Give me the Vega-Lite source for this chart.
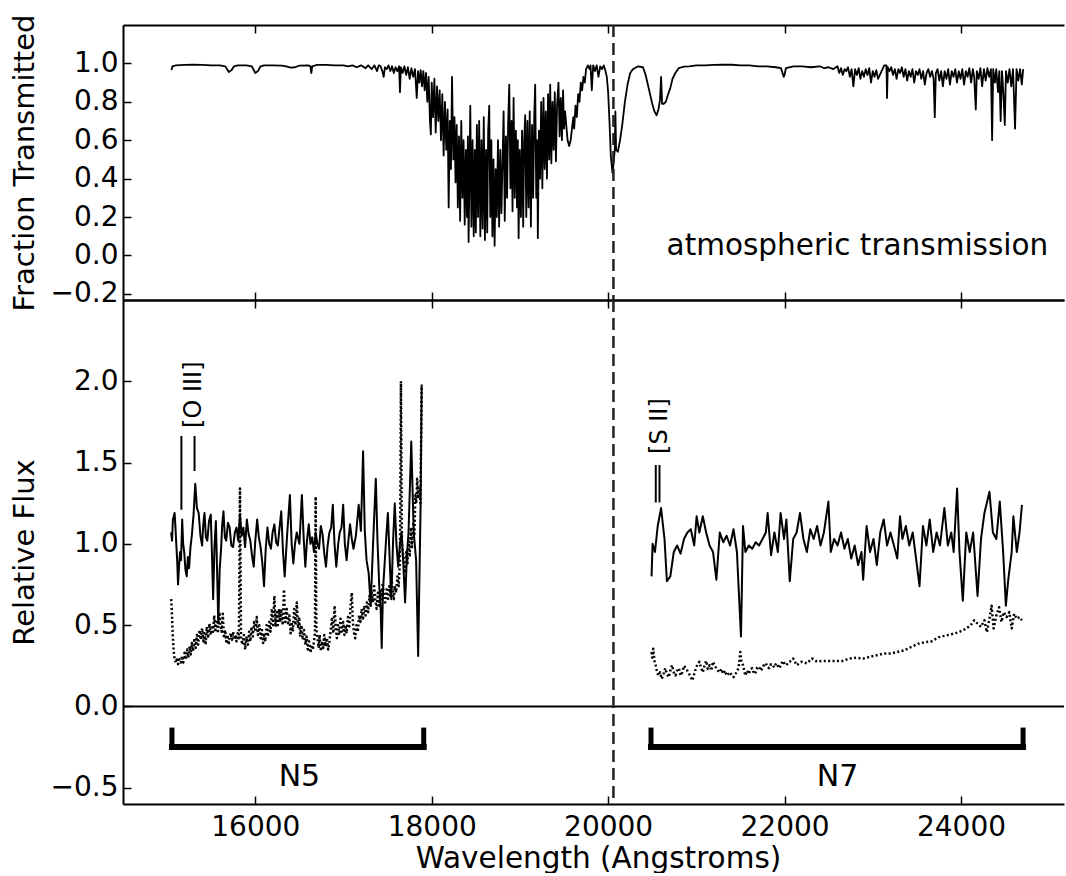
{
  "$schema": "https://vega.github.io/schema/vega-lite/v6.json",
  "autosize": {"type": "pad"},
  "padding": {"left": 10, "top": 14, "right": 0, "bottom": 0},
  "bounds": "flush",
  "spacing": 0,
  "background": "#ffffff",
  "config": {
    "font": "DejaVu Sans",
    "view": {"stroke": null},
    "axis": {"grid": false, "domain": true, "domainColor": "#000000", "domainWidth": 2, "tickColor": "#000000", "tickWidth": 1.5, "tickSize": -8, "labelColor": "#000000", "titleColor": "#000000", "labelFont": "DejaVu Sans", "titleFont": "DejaVu Sans", "labelFontSize": 28, "titleFontSize": 29, "titleFontWeight": "normal", "labelOverlap": false}
  },
  "datasets": {
    "atm": [
      {"w":15050,"t":0.965},{"w":15060,"t":0.985},{"w":15100,"t":0.99},{"w":15200,"t":0.992},{"w":15300,"t":0.993},{"w":15400,"t":0.992},{"w":15500,"t":0.99},{"w":15600,"t":0.99},{"w":15660,"t":0.985},{"w":15700,"t":0.955},{"w":15730,"t":0.965},{"w":15760,"t":0.985},{"w":15800,"t":0.99},{"w":15900,"t":0.99},{"w":15960,"t":0.985},{"w":16000,"t":0.95},{"w":16030,"t":0.96},{"w":16060,"t":0.985},{"w":16100,"t":0.99},{"w":16200,"t":0.99},{"w":16300,"t":0.988},{"w":16350,"t":0.985},{"w":16400,"t":0.978},{"w":16450,"t":0.98},{"w":16500,"t":0.988},{"w":16600,"t":0.99},{"w":16625,"t":0.985},{"w":16635,"t":0.95},{"w":16645,"t":0.985},{"w":16700,"t":0.992},{"w":16800,"t":0.992},{"w":16900,"t":0.99},{"w":17000,"t":0.99},{"w":17050,"t":0.985},{"w":17100,"t":0.99},{"w":17150,"t":0.98},{"w":17200,"t":0.99},{"w":17250,"t":0.975},{"w":17280,"t":0.99},{"w":17320,"t":0.97},{"w":17350,"t":0.99},{"w":17380,"t":0.96},{"w":17400,"t":0.99},
      {"w":17420,"t":0.985},{"w":17440,"t":0.96},{"w":17455,"t":0.93},{"w":17470,"t":0.98},{"w":17490,"t":0.97},{"w":17510,"t":0.99},{"w":17530,"t":0.96},{"w":17550,"t":0.985},{"w":17570,"t":0.95},{"w":17590,"t":0.98},{"w":17610,"t":0.96},{"w":17630,"t":0.985},{"w":17640,"t":0.85},{"w":17650,"t":0.98},{"w":17670,"t":0.95},{"w":17690,"t":0.985},{"w":17710,"t":0.94},{"w":17730,"t":0.98},{"w":17750,"t":0.92},{"w":17770,"t":0.975},{"w":17790,"t":0.93},{"w":17810,"t":0.97},{"w":17830,"t":0.82},{"w":17845,"t":0.96},{"w":17860,"t":0.9},{"w":17875,"t":0.965},{"w":17890,"t":0.88},{"w":17905,"t":0.96},{"w":17920,"t":0.86},{"w":17935,"t":0.95},{"w":17950,"t":0.8},
      {"w":17965,"t":0.93},{"w":17980,"t":0.7},{"w":17990,"t":0.63},{"w":18000,"t":0.9},{"w":18015,"t":0.72},{"w":18030,"t":0.92},{"w":18045,"t":0.64},{"w":18060,"t":0.88},{"w":18075,"t":0.7},{"w":18090,"t":0.86},{"w":18105,"t":0.6},{"w":18120,"t":0.84},{"w":18135,"t":0.52},{"w":18150,"t":0.8},{"w":18165,"t":0.55},{"w":18180,"t":0.76},{"w":18192,"t":0.25},{"w":18205,"t":0.7},{"w":18218,"t":0.45},{"w":18230,"t":0.93},{"w":18245,"t":0.5},{"w":18258,"t":0.72},{"w":18270,"t":0.38},
      {"w":18283,"t":0.68},{"w":18296,"t":0.25},{"w":18309,"t":0.62},{"w":18322,"t":0.18},{"w":18335,"t":0.7},{"w":18348,"t":0.3},{"w":18361,"t":0.6},{"w":18374,"t":0.16},{"w":18387,"t":0.55},{"w":18400,"t":0.2},{"w":18410,"t":0.62},{"w":18418,"t":0.07},{"w":18430,"t":0.5},{"w":18437,"t":0.78},{"w":18450,"t":0.15},{"w":18463,"t":0.6},{"w":18476,"t":0.1},{"w":18488,"t":0.55},
      {"w":18500,"t":0.12},{"w":18512,"t":0.68},{"w":18525,"t":0.2},{"w":18538,"t":0.7},{"w":18551,"t":0.1},{"w":18564,"t":0.6},{"w":18577,"t":0.14},{"w":18590,"t":0.72},{"w":18603,"t":0.08},{"w":18616,"t":0.55},{"w":18629,"t":0.12},{"w":18640,"t":0.65},{"w":18652,"t":0.78},{"w":18664,"t":0.2},{"w":18676,"t":0.6},{"w":18688,"t":0.1},{"w":18700,"t":0.5},{"w":18713,"t":0.05},{"w":18725,"t":0.45},
      {"w":18738,"t":0.2},{"w":18751,"t":0.6},{"w":18764,"t":0.15},{"w":18777,"t":0.55},{"w":18790,"t":0.22},{"w":18803,"t":0.5},{"w":18815,"t":0.75},{"w":18828,"t":0.18},{"w":18841,"t":0.62},{"w":18854,"t":0.3},{"w":18866,"t":0.68},{"w":18879,"t":0.89},{"w":18892,"t":0.35},{"w":18905,"t":0.7},{"w":18916,"t":0.23},{"w":18928,"t":0.82},{"w":18941,"t":0.3},{"w":18954,"t":0.65},{"w":18967,"t":0.25},{"w":18976,"t":0.6},{"w":18985,"t":0.09},
      {"w":18998,"t":0.55},{"w":19011,"t":0.2},{"w":19024,"t":0.65},{"w":19037,"t":0.15},{"w":19048,"t":0.6},{"w":19060,"t":0.73},{"w":19072,"t":0.2},{"w":19085,"t":0.7},{"w":19098,"t":0.25},{"w":19111,"t":0.75},{"w":19124,"t":0.15},{"w":19137,"t":0.68},{"w":19150,"t":0.3},{"w":19162,"t":0.72},{"w":19173,"t":0.89},{"w":19185,"t":0.3},{"w":19196,"t":0.6},{"w":19203,"t":0.09},{"w":19215,"t":0.65},
      {"w":19228,"t":0.4},{"w":19241,"t":0.8},{"w":19254,"t":0.35},{"w":19267,"t":0.82},{"w":19280,"t":0.45},{"w":19293,"t":0.75},{"w":19306,"t":0.4},{"w":19319,"t":0.84},{"w":19332,"t":0.5},{"w":19343,"t":0.89},{"w":19356,"t":0.48},{"w":19369,"t":0.8},{"w":19382,"t":0.55},{"w":19395,"t":0.85},{"w":19408,"t":0.49},{"w":19421,"t":0.78},{"w":19437,"t":0.9},{"w":19450,"t":0.62},{"w":19463,"t":0.82},{"w":19476,"t":0.6},{"w":19489,"t":0.86},{"w":19500,"t":0.66},{"w":19512,"t":0.75},
      {"w":19525,"t":0.68},{"w":19540,"t":0.6},{"w":19558,"t":0.57},{"w":19575,"t":0.6},{"w":19590,"t":0.66},{"w":19605,"t":0.72},{"w":19615,"t":0.66},{"w":19630,"t":0.78},{"w":19645,"t":0.72},{"w":19660,"t":0.84},{"w":19675,"t":0.8},{"w":19690,"t":0.9},{"w":19705,"t":0.86},{"w":19720,"t":0.93},{"w":19735,"t":0.9},{"w":19750,"t":0.97},
      {"w":19770,"t":0.99},{"w":19790,"t":0.97},{"w":19800,"t":0.99},{"w":19815,"t":0.86},{"w":19830,"t":0.99},{"w":19850,"t":0.96},{"w":19870,"t":0.99},{"w":19890,"t":0.93},{"w":19910,"t":0.985},{"w":19930,"t":0.97},{"w":19950,"t":0.99},{"w":19970,"t":0.96},{"w":19985,"t":0.93},
      {"w":20000,"t":0.85},{"w":20015,"t":0.7},{"w":20030,"t":0.52},{"w":20049,"t":0.43},{"w":20062,"t":0.48},{"w":20075,"t":0.55},{"w":20082,"t":0.75},{"w":20090,"t":0.55},{"w":20110,"t":0.54},{"w":20135,"t":0.6},{"w":20160,"t":0.68},{"w":20190,"t":0.8},{"w":20220,"t":0.89},{"w":20250,"t":0.95},{"w":20280,"t":0.97},{"w":20340,"t":0.985},{"w":20395,"t":0.98},{"w":20425,"t":0.94},{"w":20450,"t":0.89},{"w":20475,"t":0.84},{"w":20500,"t":0.79},{"w":20525,"t":0.75},{"w":20549,"t":0.73},{"w":20570,"t":0.76},{"w":20588,"t":0.81},{"w":20600,"t":0.93},{"w":20612,"t":0.79},{"w":20630,"t":0.79},{"w":20654,"t":0.8},{"w":20680,"t":0.84},{"w":20704,"t":0.87},{"w":20730,"t":0.92},{"w":20762,"t":0.95},{"w":20800,"t":0.975},{"w":20860,"t":0.983},{"w":20917,"t":0.985},
      {"w":21000,"t":0.99},{"w":21100,"t":0.99},{"w":21200,"t":0.992},{"w":21300,"t":0.993},{"w":21400,"t":0.993},{"w":21500,"t":0.99},{"w":21600,"t":0.99},{"w":21700,"t":0.985},{"w":21800,"t":0.985},{"w":21900,"t":0.98},{"w":21960,"t":0.975},{"w":21990,"t":0.93},{"w":22000,"t":0.94},{"w":22015,"t":0.975},{"w":22100,"t":0.985},{"w":22200,"t":0.985},{"w":22300,"t":0.98},{"w":22400,"t":0.985},{"w":22450,"t":0.975},{"w":22500,"t":0.98},{"w":22550,"t":0.97},
      {"w":22600,"t":0.985},{"w":22620,"t":0.95},{"w":22640,"t":0.975},{"w":22660,"t":0.94},{"w":22680,"t":0.97},{"w":22700,"t":0.96},{"w":22720,"t":0.98},{"w":22740,"t":0.93},{"w":22760,"t":0.97},{"w":22780,"t":0.88},{"w":22800,"t":0.97},{"w":22820,"t":0.94},{"w":22840,"t":0.975},{"w":22860,"t":0.92},{"w":22880,"t":0.96},{"w":22900,"t":0.93},{"w":22920,"t":0.97},{"w":22940,"t":0.94},{"w":22960,"t":0.975},{"w":22980,"t":0.9},{"w":23000,"t":0.96},{"w":23020,"t":0.93},{"w":23040,"t":0.965},{"w":23060,"t":0.92},{"w":23080,"t":0.94},{"w":23100,"t":0.96},{"w":23130,"t":0.99},{"w":23155,"t":0.99},{"w":23162,"t":0.82},{"w":23170,"t":0.98},
      {"w":23190,"t":0.96},{"w":23210,"t":0.98},{"w":23230,"t":0.94},{"w":23250,"t":0.97},{"w":23270,"t":0.92},{"w":23290,"t":0.97},{"w":23310,"t":0.95},{"w":23330,"t":0.98},{"w":23350,"t":0.93},{"w":23370,"t":0.97},{"w":23390,"t":0.91},{"w":23410,"t":0.96},{"w":23430,"t":0.93},{"w":23450,"t":0.97},{"w":23470,"t":0.9},{"w":23490,"t":0.96},{"w":23510,"t":0.94},{"w":23530,"t":0.97},{"w":23550,"t":0.92},{"w":23570,"t":0.96},{"w":23590,"t":0.89},{"w":23610,"t":0.95},{"w":23630,"t":0.97},{"w":23650,"t":0.93},{"w":23670,"t":0.96},{"w":23690,"t":0.92},{"w":23703,"t":0.72},{"w":23715,"t":0.95},{"w":23735,"t":0.97},{"w":23755,"t":0.91},{"w":23775,"t":0.96},{"w":23795,"t":0.88},{"w":23815,"t":0.96},{"w":23835,"t":0.92},{"w":23855,"t":0.97},{"w":23875,"t":0.89},{"w":23895,"t":0.96},{"w":23915,"t":0.93},{"w":23935,"t":0.97},{"w":23955,"t":0.9},{"w":23975,"t":0.96},{"w":23995,"t":0.92},{"w":24015,"t":0.97},{"w":24035,"t":0.89},{"w":24055,"t":0.96},{"w":24075,"t":0.93},{"w":24095,"t":0.975},{"w":24115,"t":0.9},{"w":24135,"t":0.97},{"w":24150,"t":0.93},{"w":24168,"t":0.76},{"w":24180,"t":0.96},{"w":24200,"t":0.92},{"w":24220,"t":0.975},{"w":24240,"t":0.88},{"w":24260,"t":0.97},{"w":24280,"t":0.91},{"w":24300,"t":0.975},{"w":24320,"t":0.93},{"w":24340,"t":0.97},{"w":24353,"t":0.6},{"w":24365,"t":0.97},{"w":24385,"t":0.9},{"w":24400,"t":0.97},{"w":24420,"t":0.85},{"w":24435,"t":0.96},{"w":24450,"t":0.7},{"w":24465,"t":0.96},{"w":24480,"t":0.85},{"w":24497,"t":0.68},{"w":24510,"t":0.96},{"w":24530,"t":0.9},{"w":24550,"t":0.97},{"w":24570,"t":0.88},{"w":24590,"t":0.97},{"w":24613,"t":0.66},{"w":24630,"t":0.97},{"w":24650,"t":0.91},{"w":24670,"t":0.97},{"w":24690,"t":0.89},{"w":24705,"t":0.97}
    ],
    "solid": [
      {"slit":"N5","w":15046,"f":1.07},{"slit":"N5","w":15056,"f":1.02},{"slit":"N5","w":15066,"f":1.15},{"slit":"N5","w":15085,"f":1.19},{"slit":"N5","w":15095,"f":1.1},{"slit":"N5","w":15104,"f":1.0},{"slit":"N5","w":15114,"f":0.9},{"slit":"N5","w":15124,"f":0.75},{"slit":"N5","w":15135,"f":0.86},{"slit":"N5","w":15147,"f":0.95},{"slit":"N5","w":15158,"f":0.9},{"slit":"N5","w":15171,"f":1.15},{"slit":"N5","w":15182,"f":1.0},{"slit":"N5","w":15194,"f":0.95},{"slit":"N5","w":15208,"f":0.84},{"slit":"N5","w":15222,"f":0.8},{"slit":"N5","w":15236,"f":0.92},{"slit":"N5","w":15249,"f":0.85},{"slit":"N5","w":15265,"f":0.98},{"slit":"N5","w":15280,"f":1.05},{"slit":"N5","w":15300,"f":1.18},{"slit":"N5","w":15319,"f":1.37},{"slit":"N5","w":15338,"f":1.22},{"slit":"N5","w":15358,"f":1.19},{"slit":"N5","w":15378,"f":1.05},{"slit":"N5","w":15397,"f":0.99},{"slit":"N5","w":15410,"f":1.12},{"slit":"N5","w":15424,"f":1.19},{"slit":"N5","w":15440,"f":1.04},{"slit":"N5","w":15456,"f":1.02},{"slit":"N5","w":15475,"f":1.14},{"slit":"N5","w":15495,"f":1.18},{"slit":"N5","w":15508,"f":0.95},{"slit":"N5","w":15522,"f":0.66},{"slit":"N5","w":15537,"f":0.98},{"slit":"N5","w":15553,"f":1.14},{"slit":"N5","w":15566,"f":0.85},{"slit":"N5","w":15580,"f":0.51},{"slit":"N5","w":15596,"f":0.84},{"slit":"N5","w":15612,"f":0.97},{"slit":"N5","w":15625,"f":1.12},{"slit":"N5","w":15639,"f":1.2},{"slit":"N5","w":15655,"f":1.04},{"slit":"N5","w":15670,"f":1.02},{"slit":"N5","w":15690,"f":1.13},{"slit":"N5","w":15709,"f":1.1},{"slit":"N5","w":15728,"f":0.99},{"slit":"N5","w":15748,"f":0.98},{"slit":"N5","w":15768,"f":1.07},{"slit":"N5","w":15787,"f":1.1},{"slit":"N5","w":15806,"f":1.02},{"slit":"N5","w":15826,"f":1.18},{"slit":"N5","w":15846,"f":1.05},{"slit":"N5","w":15865,"f":1.1},{"slit":"N5","w":15884,"f":0.98},{"slit":"N5","w":15904,"f":1.15},{"slit":"N5","w":15924,"f":1.06},{"slit":"N5","w":15943,"f":1.02},{"slit":"N5","w":15962,"f":0.93},{"slit":"N5","w":15982,"f":0.86},{"slit":"N5","w":16000,"f":1.02},{"slit":"N5","w":16021,"f":1.15},{"slit":"N5","w":16040,"f":1.04},{"slit":"N5","w":16060,"f":0.98},{"slit":"N5","w":16080,"f":0.88},{"slit":"N5","w":16099,"f":0.74},{"slit":"N5","w":16118,"f":0.97},{"slit":"N5","w":16138,"f":1.1},{"slit":"N5","w":16158,"f":1.0},{"slit":"N5","w":16177,"f":0.97},{"slit":"N5","w":16196,"f":1.07},{"slit":"N5","w":16216,"f":1.12},{"slit":"N5","w":16236,"f":1.01},{"slit":"N5","w":16255,"f":0.99},{"slit":"N5","w":16275,"f":1.1},{"slit":"N5","w":16294,"f":1.2},{"slit":"N5","w":16314,"f":0.95},{"slit":"N5","w":16333,"f":0.8},{"slit":"N5","w":16360,"f":1.05},{"slit":"N5","w":16392,"f":1.3},{"slit":"N5","w":16412,"f":1.0},{"slit":"N5","w":16431,"f":0.88},{"slit":"N5","w":16450,"f":1.0},{"slit":"N5","w":16470,"f":1.07},{"slit":"N5","w":16500,"f":1.0},{"slit":"N5","w":16528,"f":1.3},{"slit":"N5","w":16548,"f":1.04},{"slit":"N5","w":16567,"f":0.86},{"slit":"N5","w":16586,"f":1.02},{"slit":"N5","w":16606,"f":1.12},{"slit":"N5","w":16625,"f":1.0},{"slit":"N5","w":16645,"f":1.04},{"slit":"N5","w":16665,"f":0.95},{"slit":"N5","w":16684,"f":1.07},{"slit":"N5","w":16703,"f":1.0},{"slit":"N5","w":16723,"f":0.97},{"slit":"N5","w":16742,"f":1.11},{"slit":"N5","w":16762,"f":1.06},{"slit":"N5","w":16782,"f":0.94},{"slit":"N5","w":16801,"f":0.86},{"slit":"N5","w":16820,"f":0.99},{"slit":"N5","w":16840,"f":1.07},{"slit":"N5","w":16860,"f":1.1},{"slit":"N5","w":16879,"f":1.24},{"slit":"N5","w":16898,"f":1.0},{"slit":"N5","w":16918,"f":0.86},{"slit":"N5","w":16938,"f":0.99},{"slit":"N5","w":16957,"f":1.07},{"slit":"N5","w":16977,"f":1.1},{"slit":"N5","w":16996,"f":1.24},{"slit":"N5","w":17015,"f":1.0},{"slit":"N5","w":17035,"f":0.9},{"slit":"N5","w":17055,"f":1.02},{"slit":"N5","w":17074,"f":1.12},{"slit":"N5","w":17094,"f":1.03},{"slit":"N5","w":17113,"f":0.97},{"slit":"N5","w":17140,"f":1.05},{"slit":"N5","w":17172,"f":1.24},{"slit":"N5","w":17197,"f":1.08},{"slit":"N5","w":17222,"f":1.57},{"slit":"N5","w":17241,"f":1.08},{"slit":"N5","w":17261,"f":0.9},{"slit":"N5","w":17285,"f":0.82},{"slit":"N5","w":17308,"f":0.62},{"slit":"N5","w":17335,"f":1.0},{"slit":"N5","w":17366,"f":1.4},{"slit":"N5","w":17385,"f":1.02},{"slit":"N5","w":17405,"f":0.74},{"slit":"N5","w":17420,"f":0.62},{"slit":"N5","w":17433,"f":0.36},{"slit":"N5","w":17448,"f":0.72},{"slit":"N5","w":17464,"f":0.86},{"slit":"N5","w":17484,"f":1.04},{"slit":"N5","w":17503,"f":1.19},{"slit":"N5","w":17522,"f":0.92},{"slit":"N5","w":17542,"f":0.66},{"slit":"N5","w":17562,"f":1.02},{"slit":"N5","w":17581,"f":1.25},{"slit":"N5","w":17600,"f":1.0},{"slit":"N5","w":17620,"f":0.86},{"slit":"N5","w":17640,"f":1.0},{"slit":"N5","w":17659,"f":1.07},{"slit":"N5","w":17678,"f":0.88},{"slit":"N5","w":17698,"f":0.64},{"slit":"N5","w":17718,"f":0.92},{"slit":"N5","w":17737,"f":1.07},{"slit":"N5","w":17768,"f":1.63},{"slit":"N5","w":17796,"f":1.07},{"slit":"N5","w":17823,"f":0.9},{"slit":"N5","w":17846,"f":0.31},{"slit":"N5","w":17874,"f":1.24},{"slit":"N5","w":17886,"f":1.98},
      {"slit":"N7","w":20492,"f":0.8},{"slit":"N7","w":20504,"f":1.0},{"slit":"N7","w":20531,"f":0.95},{"slit":"N7","w":20562,"f":1.11},{"slit":"N7","w":20600,"f":1.22},{"slit":"N7","w":20639,"f":1.03},{"slit":"N7","w":20666,"f":0.77},{"slit":"N7","w":20705,"f":0.8},{"slit":"N7","w":20744,"f":0.95},{"slit":"N7","w":20782,"f":0.99},{"slit":"N7","w":20821,"f":0.94},{"slit":"N7","w":20860,"f":1.03},{"slit":"N7","w":20898,"f":1.07},{"slit":"N7","w":20937,"f":1.09},{"slit":"N7","w":20976,"f":0.99},{"slit":"N7","w":21003,"f":1.17},{"slit":"N7","w":21034,"f":1.07},{"slit":"N7","w":21073,"f":1.17},{"slit":"N7","w":21111,"f":1.07},{"slit":"N7","w":21150,"f":0.99},{"slit":"N7","w":21189,"f":0.95},{"slit":"N7","w":21227,"f":0.78},{"slit":"N7","w":21266,"f":1.07},{"slit":"N7","w":21305,"f":1.01},{"slit":"N7","w":21343,"f":1.05},{"slit":"N7","w":21382,"f":0.99},{"slit":"N7","w":21421,"f":1.09},{"slit":"N7","w":21460,"f":0.95},{"slit":"N7","w":21506,"f":0.43},{"slit":"N7","w":21529,"f":1.11},{"slit":"N7","w":21556,"f":0.95},{"slit":"N7","w":21595,"f":0.99},{"slit":"N7","w":21634,"f":0.97},{"slit":"N7","w":21672,"f":1.01},{"slit":"N7","w":21711,"f":0.99},{"slit":"N7","w":21750,"f":1.03},{"slit":"N7","w":21788,"f":1.07},{"slit":"N7","w":21808,"f":1.19},{"slit":"N7","w":21847,"f":0.93},{"slit":"N7","w":21885,"f":1.07},{"slit":"N7","w":21924,"f":0.95},{"slit":"N7","w":21955,"f":1.19},{"slit":"N7","w":21994,"f":1.03},{"slit":"N7","w":22021,"f":1.15},{"slit":"N7","w":22059,"f":0.77},{"slit":"N7","w":22098,"f":1.03},{"slit":"N7","w":22137,"f":1.07},{"slit":"N7","w":22175,"f":1.19},{"slit":"N7","w":22214,"f":1.03},{"slit":"N7","w":22253,"f":0.95},{"slit":"N7","w":22292,"f":1.09},{"slit":"N7","w":22330,"f":1.03},{"slit":"N7","w":22369,"f":1.11},{"slit":"N7","w":22408,"f":0.99},{"slit":"N7","w":22446,"f":1.07},{"slit":"N7","w":22497,"f":1.26},{"slit":"N7","w":22524,"f":0.95},{"slit":"N7","w":22562,"f":1.03},{"slit":"N7","w":22601,"f":0.99},{"slit":"N7","w":22640,"f":1.07},{"slit":"N7","w":22679,"f":0.97},{"slit":"N7","w":22717,"f":1.03},{"slit":"N7","w":22756,"f":0.91},{"slit":"N7","w":22795,"f":0.99},{"slit":"N7","w":22834,"f":0.87},{"slit":"N7","w":22872,"f":0.95},{"slit":"N7","w":22891,"f":0.78},{"slit":"N7","w":22930,"f":1.11},{"slit":"N7","w":22969,"f":0.95},{"slit":"N7","w":23008,"f":1.03},{"slit":"N7","w":23046,"f":0.87},{"slit":"N7","w":23085,"f":1.07},{"slit":"N7","w":23124,"f":1.15},{"slit":"N7","w":23162,"f":0.99},{"slit":"N7","w":23201,"f":1.07},{"slit":"N7","w":23240,"f":0.99},{"slit":"N7","w":23278,"f":0.91},{"slit":"N7","w":23309,"f":1.17},{"slit":"N7","w":23336,"f":1.03},{"slit":"N7","w":23375,"f":1.11},{"slit":"N7","w":23414,"f":0.99},{"slit":"N7","w":23453,"f":1.07},{"slit":"N7","w":23491,"f":0.91},{"slit":"N7","w":23530,"f":0.74},{"slit":"N7","w":23569,"f":1.11},{"slit":"N7","w":23608,"f":0.99},{"slit":"N7","w":23646,"f":1.15},{"slit":"N7","w":23685,"f":0.95},{"slit":"N7","w":23724,"f":1.07},{"slit":"N7","w":23762,"f":0.99},{"slit":"N7","w":23812,"f":1.22},{"slit":"N7","w":23851,"f":0.99},{"slit":"N7","w":23890,"f":1.07},{"slit":"N7","w":23917,"f":0.95},{"slit":"N7","w":23956,"f":1.34},{"slit":"N7","w":23983,"f":0.95},{"slit":"N7","w":24021,"f":0.65},{"slit":"N7","w":24060,"f":1.07},{"slit":"N7","w":24099,"f":0.95},{"slit":"N7","w":24138,"f":1.07},{"slit":"N7","w":24188,"f":0.68},{"slit":"N7","w":24227,"f":1.03},{"slit":"N7","w":24266,"f":1.19},{"slit":"N7","w":24323,"f":1.32},{"slit":"N7","w":24362,"f":1.07},{"slit":"N7","w":24401,"f":1.03},{"slit":"N7","w":24440,"f":1.26},{"slit":"N7","w":24478,"f":0.95},{"slit":"N7","w":24509,"f":0.62},{"slit":"N7","w":24536,"f":0.78},{"slit":"N7","w":24575,"f":0.95},{"slit":"N7","w":24594,"f":1.17},{"slit":"N7","w":24633,"f":0.95},{"slit":"N7","w":24664,"f":1.07},{"slit":"N7","w":24691,"f":1.24}
    ],
    "dotted": [
      {"slit":"N5","w":15046,"f":0.66},{"slit":"N5","w":15052,"f":0.6},{"slit":"N5","w":15058,"f":0.52},{"slit":"N5","w":15064,"f":0.44},{"slit":"N5","w":15070,"f":0.38},{"slit":"N5","w":15078,"f":0.32},{"slit":"N5","w":15085,"f":0.29},{"slit":"N5","w":15100,"f":0.27},{"slit":"N5","w":15115,"f":0.3},{"slit":"N5","w":15124,"f":0.26},{"slit":"N5","w":15140,"f":0.29},{"slit":"N5","w":15155,"f":0.27},{"slit":"N5","w":15170,"f":0.31},{"slit":"N5","w":15183,"f":0.27},{"slit":"N5","w":15198,"f":0.33},{"slit":"N5","w":15212,"f":0.29},{"slit":"N5","w":15226,"f":0.35},{"slit":"N5","w":15241,"f":0.3},{"slit":"N5","w":15255,"f":0.37},{"slit":"N5","w":15268,"f":0.32},{"slit":"N5","w":15280,"f":0.39},{"slit":"N5","w":15295,"f":0.34},{"slit":"N5","w":15310,"f":0.42},{"slit":"N5","w":15324,"f":0.36},{"slit":"N5","w":15338,"f":0.44},{"slit":"N5","w":15352,"f":0.38},{"slit":"N5","w":15367,"f":0.47},{"slit":"N5","w":15382,"f":0.41},{"slit":"N5","w":15397,"f":0.48},{"slit":"N5","w":15412,"f":0.4},{"slit":"N5","w":15424,"f":0.45},{"slit":"N5","w":15436,"f":0.38},{"slit":"N5","w":15450,"f":0.49},{"slit":"N5","w":15465,"f":0.42},{"slit":"N5","w":15480,"f":0.51},{"slit":"N5","w":15495,"f":0.44},{"slit":"N5","w":15510,"f":0.5},{"slit":"N5","w":15522,"f":0.46},{"slit":"N5","w":15534,"f":0.56},{"slit":"N5","w":15548,"f":0.47},{"slit":"N5","w":15562,"f":0.52},{"slit":"N5","w":15576,"f":0.45},{"slit":"N5","w":15592,"f":0.58},{"slit":"N5","w":15605,"f":0.5},{"slit":"N5","w":15618,"f":0.46},{"slit":"N5","w":15631,"f":0.57},{"slit":"N5","w":15645,"f":0.42},{"slit":"N5","w":15658,"f":0.47},{"slit":"N5","w":15670,"f":0.4},{"slit":"N5","w":15685,"f":0.44},{"slit":"N5","w":15698,"f":0.38},{"slit":"N5","w":15709,"f":0.43},{"slit":"N5","w":15722,"f":0.45},{"slit":"N5","w":15735,"f":0.41},{"slit":"N5","w":15748,"f":0.46},{"slit":"N5","w":15762,"f":0.41},{"slit":"N5","w":15775,"f":0.44},{"slit":"N5","w":15787,"f":0.4},{"slit":"N5","w":15800,"f":0.45},{"slit":"N5","w":15814,"f":0.42},{"slit":"N5","w":15826,"f":1.34},{"slit":"N5","w":15838,"f":0.42},{"slit":"N5","w":15855,"f":0.38},{"slit":"N5","w":15870,"f":0.44},{"slit":"N5","w":15885,"f":0.35},{"slit":"N5","w":15900,"f":0.43},{"slit":"N5","w":15915,"f":0.38},{"slit":"N5","w":15930,"f":0.46},{"slit":"N5","w":15943,"f":0.4},{"slit":"N5","w":15958,"f":0.49},{"slit":"N5","w":15972,"f":0.43},{"slit":"N5","w":15987,"f":0.52},{"slit":"N5","w":16002,"f":0.46},{"slit":"N5","w":16016,"f":0.55},{"slit":"N5","w":16030,"f":0.44},{"slit":"N5","w":16045,"f":0.5},{"slit":"N5","w":16060,"f":0.42},{"slit":"N5","w":16075,"f":0.47},{"slit":"N5","w":16088,"f":0.39},{"slit":"N5","w":16099,"f":0.44},{"slit":"N5","w":16114,"f":0.4},{"slit":"N5","w":16128,"f":0.5},{"slit":"N5","w":16143,"f":0.43},{"slit":"N5","w":16158,"f":0.52},{"slit":"N5","w":16172,"f":0.46},{"slit":"N5","w":16187,"f":0.6},{"slit":"N5","w":16201,"f":0.5},{"slit":"N5","w":16216,"f":0.68},{"slit":"N5","w":16230,"f":0.49},{"slit":"N5","w":16243,"f":0.58},{"slit":"N5","w":16255,"f":0.5},{"slit":"N5","w":16268,"f":0.6},{"slit":"N5","w":16282,"f":0.52},{"slit":"N5","w":16294,"f":0.6},{"slit":"N5","w":16310,"f":0.5},{"slit":"N5","w":16325,"f":0.72},{"slit":"N5","w":16340,"f":0.52},{"slit":"N5","w":16356,"f":0.6},{"slit":"N5","w":16372,"f":0.5},{"slit":"N5","w":16386,"f":0.56},{"slit":"N5","w":16400,"f":0.45},{"slit":"N5","w":16411,"f":0.52},{"slit":"N5","w":16425,"f":0.46},{"slit":"N5","w":16440,"f":0.6},{"slit":"N5","w":16455,"f":0.5},{"slit":"N5","w":16470,"f":0.64},{"slit":"N5","w":16485,"f":0.48},{"slit":"N5","w":16497,"f":0.55},{"slit":"N5","w":16509,"f":0.43},{"slit":"N5","w":16523,"f":0.5},{"slit":"N5","w":16538,"f":0.41},{"slit":"N5","w":16552,"f":0.47},{"slit":"N5","w":16567,"f":0.38},{"slit":"N5","w":16582,"f":0.43},{"slit":"N5","w":16596,"f":0.35},{"slit":"N5","w":16611,"f":0.4},{"slit":"N5","w":16626,"f":0.33},{"slit":"N5","w":16640,"f":0.38},{"slit":"N5","w":16652,"f":0.35},{"slit":"N5","w":16665,"f":0.4},{"slit":"N5","w":16676,"f":0.45},{"slit":"N5","w":16684,"f":1.29},{"slit":"N5","w":16692,"f":0.48},{"slit":"N5","w":16704,"f":0.42},{"slit":"N5","w":16718,"f":0.36},{"slit":"N5","w":16730,"f":0.44},{"slit":"N5","w":16743,"f":0.34},{"slit":"N5","w":16757,"f":0.4},{"slit":"N5","w":16770,"f":0.36},{"slit":"N5","w":16782,"f":0.44},{"slit":"N5","w":16797,"f":0.37},{"slit":"N5","w":16811,"f":0.42},{"slit":"N5","w":16826,"f":0.35},{"slit":"N5","w":16840,"f":0.4},{"slit":"N5","w":16855,"f":0.47},{"slit":"N5","w":16870,"f":0.55},{"slit":"N5","w":16884,"f":0.45},{"slit":"N5","w":16899,"f":0.62},{"slit":"N5","w":16912,"f":0.48},{"slit":"N5","w":16925,"f":0.42},{"slit":"N5","w":16938,"f":0.5},{"slit":"N5","w":16952,"f":0.44},{"slit":"N5","w":16966,"f":0.54},{"slit":"N5","w":16980,"f":0.46},{"slit":"N5","w":16996,"f":0.52},{"slit":"N5","w":17010,"f":0.44},{"slit":"N5","w":17022,"f":0.5},{"slit":"N5","w":17035,"f":0.45},{"slit":"N5","w":17050,"f":0.55},{"slit":"N5","w":17065,"f":0.48},{"slit":"N5","w":17080,"f":0.62},{"slit":"N5","w":17094,"f":0.7},{"slit":"N5","w":17106,"f":0.52},{"slit":"N5","w":17120,"f":0.45},{"slit":"N5","w":17133,"f":0.42},{"slit":"N5","w":17147,"f":0.5},{"slit":"N5","w":17162,"f":0.46},{"slit":"N5","w":17177,"f":0.56},{"slit":"N5","w":17191,"f":0.52},{"slit":"N5","w":17206,"f":0.6},{"slit":"N5","w":17220,"f":0.53},{"slit":"N5","w":17235,"f":0.62},{"slit":"N5","w":17250,"f":0.56},{"slit":"N5","w":17265,"f":0.64},{"slit":"N5","w":17279,"f":0.58},{"slit":"N5","w":17294,"f":0.68},{"slit":"N5","w":17308,"f":0.62},{"slit":"N5","w":17322,"f":0.7},{"slit":"N5","w":17335,"f":0.64},{"slit":"N5","w":17347,"f":0.74},{"slit":"N5","w":17360,"f":0.66},{"slit":"N5","w":17375,"f":0.6},{"slit":"N5","w":17390,"f":0.7},{"slit":"N5","w":17405,"f":0.62},{"slit":"N5","w":17418,"f":0.72},{"slit":"N5","w":17430,"f":0.66},{"slit":"N5","w":17444,"f":0.76},{"slit":"N5","w":17458,"f":0.68},{"slit":"N5","w":17472,"f":0.64},{"slit":"N5","w":17488,"f":0.72},{"slit":"N5","w":17503,"f":0.65},{"slit":"N5","w":17518,"f":0.74},{"slit":"N5","w":17530,"f":0.68},{"slit":"N5","w":17542,"f":0.8},{"slit":"N5","w":17556,"f":0.72},{"slit":"N5","w":17570,"f":0.66},{"slit":"N5","w":17581,"f":0.74},{"slit":"N5","w":17596,"f":0.7},{"slit":"N5","w":17612,"f":0.8},{"slit":"N5","w":17625,"f":0.74},{"slit":"N5","w":17640,"f":0.9},{"slit":"N5","w":17651,"f":2.0},{"slit":"N5","w":17662,"f":1.0},{"slit":"N5","w":17682,"f":0.9},{"slit":"N5","w":17698,"f":0.82},{"slit":"N5","w":17712,"f":0.95},{"slit":"N5","w":17725,"f":0.88},{"slit":"N5","w":17737,"f":1.02},{"slit":"N5","w":17750,"f":0.92},{"slit":"N5","w":17763,"f":1.1},{"slit":"N5","w":17776,"f":0.98},{"slit":"N5","w":17790,"f":1.12},{"slit":"N5","w":17803,"f":1.05},{"slit":"N5","w":17815,"f":1.3},{"slit":"N5","w":17825,"f":1.25},{"slit":"N5","w":17835,"f":1.4},{"slit":"N5","w":17848,"f":1.28},{"slit":"N5","w":17862,"f":1.35},{"slit":"N5","w":17872,"f":1.25},{"slit":"N5","w":17886,"f":1.97},
      {"slit":"N7","w":20492,"f":0.335},{"slit":"N7","w":20500,"f":0.3},{"slit":"N7","w":20511,"f":0.355},{"slit":"N7","w":20525,"f":0.28},{"slit":"N7","w":20538,"f":0.254},{"slit":"N7","w":20552,"f":0.22},{"slit":"N7","w":20569,"f":0.19},{"slit":"N7","w":20588,"f":0.21},{"slit":"N7","w":20608,"f":0.17},{"slit":"N7","w":20628,"f":0.2},{"slit":"N7","w":20647,"f":0.235},{"slit":"N7","w":20666,"f":0.2},{"slit":"N7","w":20686,"f":0.18},{"slit":"N7","w":20705,"f":0.22},{"slit":"N7","w":20724,"f":0.254},{"slit":"N7","w":20743,"f":0.21},{"slit":"N7","w":20763,"f":0.19},{"slit":"N7","w":20782,"f":0.22},{"slit":"N7","w":20802,"f":0.235},{"slit":"N7","w":20821,"f":0.19},{"slit":"N7","w":20840,"f":0.21},{"slit":"N7","w":20860,"f":0.25},{"slit":"N7","w":20879,"f":0.235},{"slit":"N7","w":20898,"f":0.22},{"slit":"N7","w":20918,"f":0.2},{"slit":"N7","w":20937,"f":0.18},{"slit":"N7","w":20956,"f":0.16},{"slit":"N7","w":20976,"f":0.2},{"slit":"N7","w":20995,"f":0.235},{"slit":"N7","w":21015,"f":0.26},{"slit":"N7","w":21034,"f":0.275},{"slit":"N7","w":21053,"f":0.24},{"slit":"N7","w":21073,"f":0.21},{"slit":"N7","w":21092,"f":0.25},{"slit":"N7","w":21111,"f":0.28},{"slit":"N7","w":21130,"f":0.23},{"slit":"N7","w":21150,"f":0.254},{"slit":"N7","w":21170,"f":0.22},{"slit":"N7","w":21189,"f":0.275},{"slit":"N7","w":21208,"f":0.25},{"slit":"N7","w":21227,"f":0.235},{"slit":"N7","w":21246,"f":0.22},{"slit":"N7","w":21266,"f":0.21},{"slit":"N7","w":21285,"f":0.23},{"slit":"N7","w":21305,"f":0.2},{"slit":"N7","w":21324,"f":0.22},{"slit":"N7","w":21343,"f":0.19},{"slit":"N7","w":21362,"f":0.2},{"slit":"N7","w":21382,"f":0.21},{"slit":"N7","w":21401,"f":0.19},{"slit":"N7","w":21421,"f":0.18},{"slit":"N7","w":21440,"f":0.2},{"slit":"N7","w":21460,"f":0.21},{"slit":"N7","w":21480,"f":0.24},{"slit":"N7","w":21498,"f":0.335},{"slit":"N7","w":21512,"f":0.27},{"slit":"N7","w":21529,"f":0.254},{"slit":"N7","w":21556,"f":0.19},{"slit":"N7","w":21575,"f":0.22},{"slit":"N7","w":21595,"f":0.2},{"slit":"N7","w":21615,"f":0.23},{"slit":"N7","w":21634,"f":0.235},{"slit":"N7","w":21653,"f":0.2},{"slit":"N7","w":21672,"f":0.21},{"slit":"N7","w":21692,"f":0.24},{"slit":"N7","w":21711,"f":0.245},{"slit":"N7","w":21730,"f":0.22},{"slit":"N7","w":21750,"f":0.235},{"slit":"N7","w":21770,"f":0.26},{"slit":"N7","w":21788,"f":0.265},{"slit":"N7","w":21808,"f":0.24},{"slit":"N7","w":21827,"f":0.235},{"slit":"N7","w":21847,"f":0.26},{"slit":"N7","w":21866,"f":0.254},{"slit":"N7","w":21885,"f":0.24},{"slit":"N7","w":21905,"f":0.265},{"slit":"N7","w":21924,"f":0.25},{"slit":"N7","w":21943,"f":0.235},{"slit":"N7","w":21962,"f":0.26},{"slit":"N7","w":21982,"f":0.28},{"slit":"N7","w":22001,"f":0.26},{"slit":"N7","w":22021,"f":0.254},{"slit":"N7","w":22040,"f":0.27},{"slit":"N7","w":22059,"f":0.275},{"slit":"N7","w":22098,"f":0.295},{"slit":"N7","w":22137,"f":0.254},{"slit":"N7","w":22195,"f":0.275},{"slit":"N7","w":22253,"f":0.265},{"slit":"N7","w":22311,"f":0.295},{"slit":"N7","w":22369,"f":0.275},{"slit":"N7","w":22427,"f":0.28},{"slit":"N7","w":22504,"f":0.28},{"slit":"N7","w":22582,"f":0.28},{"slit":"N7","w":22659,"f":0.28},{"slit":"N7","w":22737,"f":0.295},{"slit":"N7","w":22814,"f":0.3},{"slit":"N7","w":22891,"f":0.295},{"slit":"N7","w":22969,"f":0.305},{"slit":"N7","w":23046,"f":0.315},{"slit":"N7","w":23124,"f":0.325},{"slit":"N7","w":23201,"f":0.325},{"slit":"N7","w":23278,"f":0.335},{"slit":"N7","w":23356,"f":0.345},{"slit":"N7","w":23433,"f":0.365},{"slit":"N7","w":23511,"f":0.385},{"slit":"N7","w":23588,"f":0.395},{"slit":"N7","w":23665,"f":0.4},{"slit":"N7","w":23743,"f":0.425},{"slit":"N7","w":23820,"f":0.435},{"slit":"N7","w":23898,"f":0.445},{"slit":"N7","w":23975,"f":0.457},{"slit":"N7","w":24053,"f":0.477},{"slit":"N7","w":24111,"f":0.5},{"slit":"N7","w":24150,"f":0.53},{"slit":"N7","w":24188,"f":0.51},{"slit":"N7","w":24227,"f":0.49},{"slit":"N7","w":24266,"f":0.53},{"slit":"N7","w":24293,"f":0.457},{"slit":"N7","w":24323,"f":0.54},{"slit":"N7","w":24347,"f":0.62},{"slit":"N7","w":24370,"f":0.48},{"slit":"N7","w":24401,"f":0.56},{"slit":"N7","w":24432,"f":0.61},{"slit":"N7","w":24459,"f":0.52},{"slit":"N7","w":24486,"f":0.58},{"slit":"N7","w":24517,"f":0.55},{"slit":"N7","w":24548,"f":0.58},{"slit":"N7","w":24575,"f":0.48},{"slit":"N7","w":24602,"f":0.57},{"slit":"N7","w":24633,"f":0.54},{"slit":"N7","w":24664,"f":0.55},{"slit":"N7","w":24691,"f":0.53}
    ],
    "ticks": [
      {"line":"[O III] a","w":15162,"lo":1.21,"hi":1.664},
      {"line":"[O III] b","w":15311,"lo":1.448,"hi":1.664},
      {"line":"[S II] a","w":20540,"lo":1.255,"hi":1.485},
      {"line":"[S II] b","w":20582,"lo":1.255,"hi":1.485}
    ],
    "lineLabels": [
      {"label":"[O III]","w":15305,"f":1.713},
      {"label":"[S II]","w":20589,"f":1.553}
    ],
    "slits": [
      {"slit":"N5","w1":15055,"w2":17909,"mid":16500},
      {"slit":"N7","w1":20486,"w2":24704,"mid":22600}
    ],
    "slitEnds": [
      {"slit":"N5","w":15055},{"slit":"N5","w":17909},{"slit":"N7","w":20486},{"slit":"N7","w":24704}
    ]
  },
  "vconcat": [
    {
      "width": 941,
      "height": 275,
      "layer": [
        {
          "data": {"name": "atm"},
          "mark": {"type": "line", "color": "#000000", "strokeWidth": 1.8, "strokeJoin": "round"},
          "encoding": {
            "x": {"field": "w", "type": "quantitative", "scale": {"domain": [14500, 25168], "nice": false, "zero": false},
                  "axis": {"orient": "bottom", "values": [16000, 18000, 20000, 22000, 24000], "labels": false, "title": null}},
            "y": {"field": "t", "type": "quantitative", "scale": {"domain": [-0.232, 1.2], "nice": false, "zero": false},
                  "axis": {"values": [-0.2, 0, 0.2, 0.4, 0.6, 0.8, 1.0], "format": ".1f", "labelPadding": 13, "title": "Fraction Transmitted", "titleX": -89.5, "titleY": 137.5, "titleAngle": 270, "titleBaseline": "alphabetic", "titleAlign": "center"}}
          }
        },
        {
          "data": {"values": [{"w": 20060}]},
          "mark": {"type": "rule", "color": "#222222", "strokeWidth": 2.5, "strokeDash": [12, 6]},
          "encoding": {
            "x": {"field": "w", "type": "quantitative", "scale": {"domain": [14500, 25168], "nice": false, "zero": false},
                  "axis": {"orient": "top", "values": [16000, 18000, 20000, 22000, 24000], "labels": false, "title": null}}
          }
        },
        {
          "data": {"values": [{"w": 24990, "t": 0.0, "label": "atmospheric transmission"}]},
          "mark": {"type": "text", "align": "right", "baseline": "alphabetic", "fontSize": 29.5, "font": "DejaVu Sans", "color": "#000000"},
          "encoding": {
            "x": {"field": "w", "type": "quantitative", "scale": {"domain": [14500, 25168], "nice": false, "zero": false}, "axis": null},
            "y": {"field": "t", "type": "quantitative", "scale": {"domain": [-0.232, 1.2], "nice": false, "zero": false}},
            "text": {"field": "label"}
          }
        }
      ],
      "resolve": {"axis": {"x": "independent"}}
    },
    {
      "width": 941,
      "height": 504,
      "layer": [
        {
          "data": {"values": [{"f": 0}]},
          "mark": {"type": "rule", "color": "#000000", "strokeWidth": 2},
          "encoding": {
            "y": {"field": "f", "type": "quantitative", "scale": {"domain": [-0.6, 2.5], "nice": false, "zero": false}}
          }
        },
        {
          "data": {"values": [{"w": 20060}]},
          "mark": {"type": "rule", "color": "#222222", "strokeWidth": 2.5, "strokeDash": [12, 6]},
          "encoding": {
            "x": {"field": "w", "type": "quantitative", "scale": {"domain": [14500, 25168], "nice": false, "zero": false},
                  "axis": {"orient": "top", "values": [16000, 18000, 20000, 22000, 24000], "labels": false, "title": null}}
          }
        },
        {
          "data": {"name": "solid"},
          "mark": {"type": "line", "color": "#000000", "strokeWidth": 2, "strokeJoin": "round"},
          "encoding": {
            "x": {"field": "w", "type": "quantitative", "scale": {"domain": [14500, 25168], "nice": false, "zero": false},
                  "axis": {"orient": "bottom", "values": [16000, 18000, 20000, 22000, 24000], "format": "d", "labelPadding": 39, "labelBaseline": "alphabetic", "title": "Wavelength (Angstroms)", "titleFontSize": 29.5, "titleX": 475, "titleY": 63, "titleBaseline": "alphabetic", "titleAlign": "center"}},
            "y": {"field": "f", "type": "quantitative", "scale": {"domain": [-0.6, 2.5], "nice": false, "zero": false},
                  "axis": {"values": [-0.5, 0, 0.5, 1.0, 1.5, 2.0], "format": ".1f", "labelPadding": 13, "title": "Relative Flux", "titleX": -89.5, "titleY": 252, "titleAngle": 270, "titleBaseline": "alphabetic", "titleAlign": "center"}},
            "detail": {"field": "slit"}
          }
        },
        {
          "data": {"name": "dotted"},
          "mark": {"type": "line", "color": "#000000", "strokeWidth": 2.5, "strokeDash": [2, 2.4], "strokeJoin": "round"},
          "encoding": {
            "x": {"field": "w", "type": "quantitative", "scale": {"domain": [14500, 25168], "nice": false, "zero": false}, "axis": null},
            "y": {"field": "f", "type": "quantitative", "scale": {"domain": [-0.6, 2.5], "nice": false, "zero": false}},
            "detail": {"field": "slit"}
          }
        },
        {
          "data": {"name": "ticks"},
          "mark": {"type": "rule", "color": "#000000", "strokeWidth": 2},
          "encoding": {
            "x": {"field": "w", "type": "quantitative", "scale": {"domain": [14500, 25168], "nice": false, "zero": false}, "axis": null},
            "y": {"field": "lo", "type": "quantitative", "scale": {"domain": [-0.6, 2.5], "nice": false, "zero": false}},
            "y2": {"field": "hi"}
          }
        },
        {
          "data": {"name": "lineLabels"},
          "mark": {"type": "text", "angle": 270, "align": "left", "baseline": "middle", "fontSize": 24, "font": "DejaVu Sans", "color": "#000000"},
          "encoding": {
            "x": {"field": "w", "type": "quantitative", "scale": {"domain": [14500, 25168], "nice": false, "zero": false}, "axis": null},
            "y": {"field": "f", "type": "quantitative", "scale": {"domain": [-0.6, 2.5], "nice": false, "zero": false}},
            "text": {"field": "label"}
          }
        },
        {
          "data": {"name": "slits"},
          "mark": {"type": "rule", "color": "#000000", "strokeWidth": 6, "strokeCap": "square"},
          "encoding": {
            "x": {"field": "w1", "type": "quantitative", "scale": {"domain": [14500, 25168], "nice": false, "zero": false}, "axis": null},
            "x2": {"field": "w2"},
            "y": {"datum": -0.25, "type": "quantitative", "scale": {"domain": [-0.6, 2.5], "nice": false, "zero": false}}
          }
        },
        {
          "data": {"name": "slitEnds"},
          "mark": {"type": "rule", "color": "#000000", "strokeWidth": 5},
          "encoding": {
            "x": {"field": "w", "type": "quantitative", "scale": {"domain": [14500, 25168], "nice": false, "zero": false}, "axis": null},
            "y": {"datum": -0.13, "type": "quantitative", "scale": {"domain": [-0.6, 2.5], "nice": false, "zero": false}},
            "y2": {"datum": -0.25}
          }
        },
        {
          "data": {"name": "slits"},
          "mark": {"type": "text", "align": "center", "baseline": "alphabetic", "fontSize": 30, "font": "DejaVu Sans", "color": "#000000"},
          "encoding": {
            "x": {"field": "mid", "type": "quantitative", "scale": {"domain": [14500, 25168], "nice": false, "zero": false}, "axis": null},
            "y": {"datum": -0.49, "type": "quantitative", "scale": {"domain": [-0.6, 2.5], "nice": false, "zero": false}},
            "text": {"field": "slit"}
          }
        }
      ],
      "resolve": {"axis": {"x": "independent"}}
    }
  ]
}
